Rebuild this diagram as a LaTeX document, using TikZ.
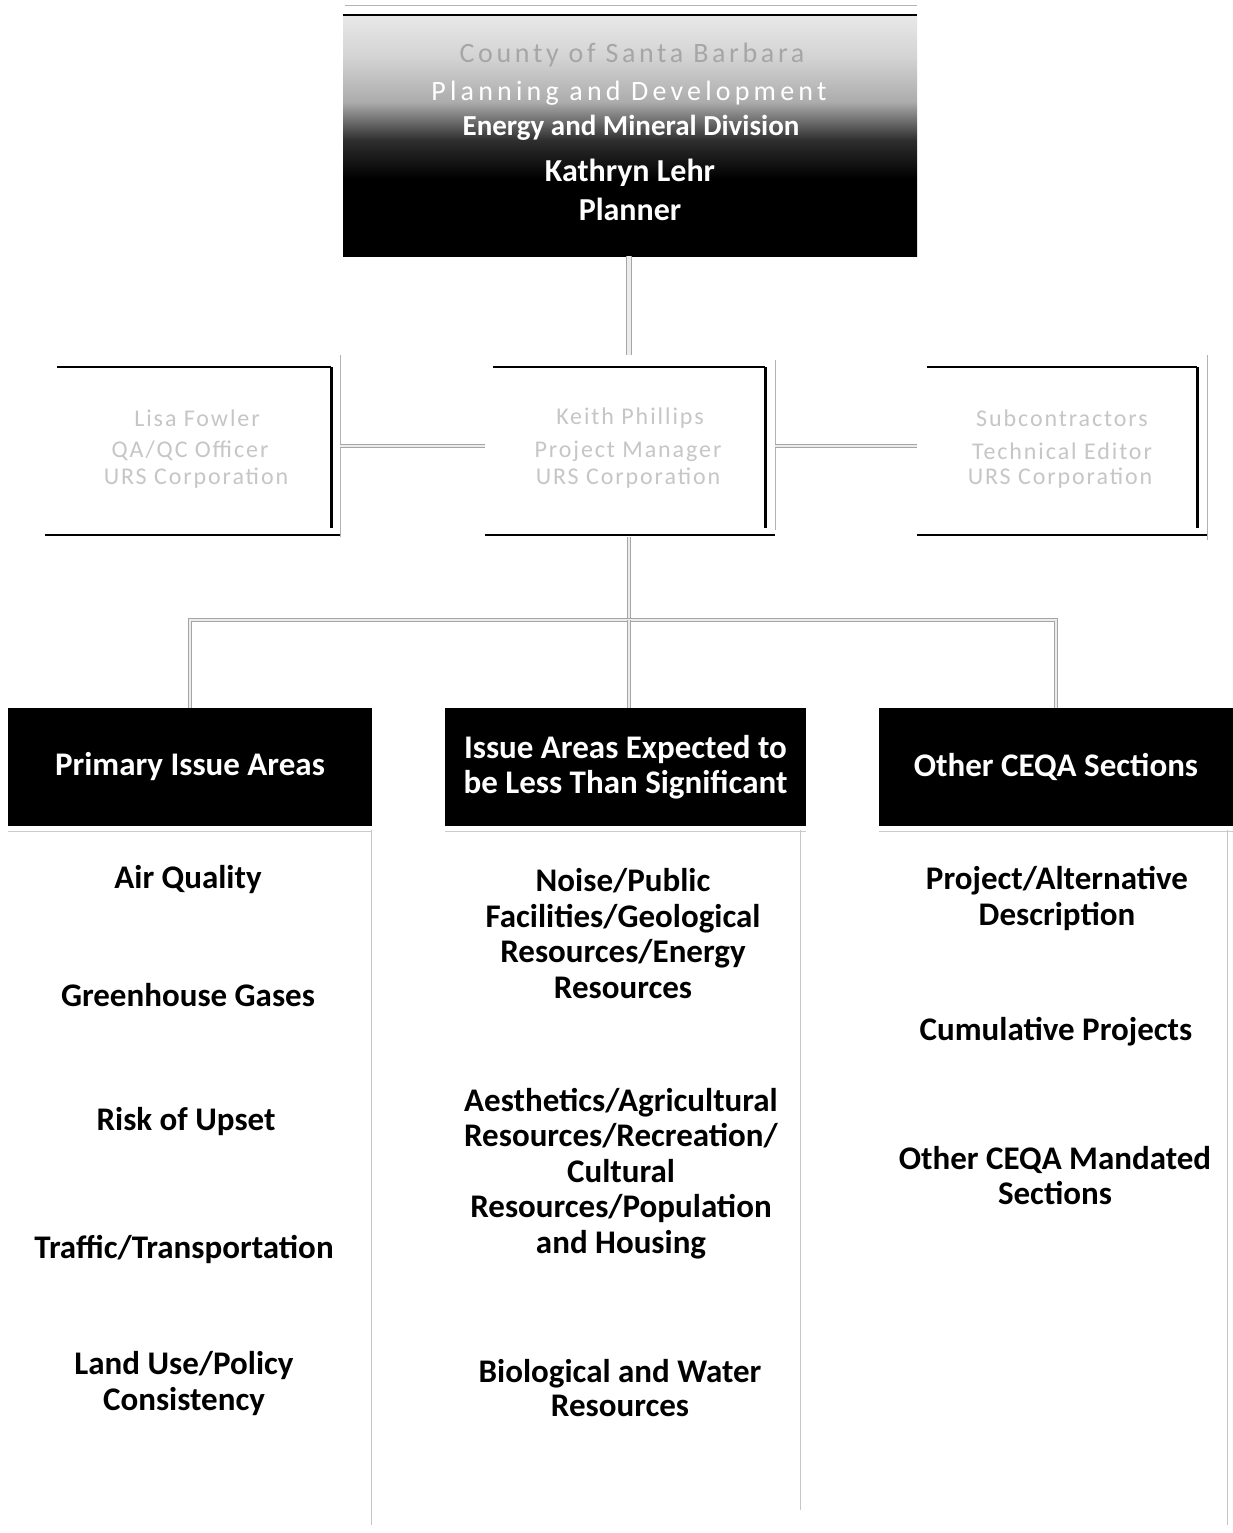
\documentclass[tikz,border=0pt]{standalone}
\usepackage{fontspec}
\setmainfont{Carlito}
\pgfdeclareverticalshading{topshade}{100bp}{color(0bp)=(black); color(25bp)=(black); color(41bp)=(black); color(49bp)=(black!82); color(57bp)=(gray!65); color(66bp)=(gray!35); color(75bp)=(gray!18); color(100bp)=(gray!18)}
\begin{document}
\begin{tikzpicture}[x=1pt,y=-1pt,
  conn/.style={draw=gray!70, double=gray!15, double distance=2.2pt, line width=0.9pt},
  toptext/.style={font=\fontsize{#1}{#1}\selectfont\bfseries, text=white, inner sep=0pt},
  toptext/.default=32,
  faint/.style={font=\fontsize{24}{26}\selectfont\addfontfeatures{LetterSpace=8}, text=gray!45, inner sep=0pt},
  hdr/.style={fill=black, text=white, font=\fontsize{33}{35.5}\selectfont\bfseries, align=center, minimum width=364pt, minimum height=118pt, inner sep=0pt},
  item/.style={font=\fontsize{33}{35.5}\selectfont\bfseries, align=center, text=black, inner sep=0pt},
  midbox/.style={minimum width=295pt, minimum height=182pt, inner sep=0pt},
  edge/.style={draw=black, line width=1.6pt},
  redge/.style={draw=black, line width=3pt},
  shadow/.style={draw=gray!60, line width=1pt},
  colline/.style={draw=gray!45, line width=0.8pt}
]
\useasboundingbox (0,0) rectangle (1233,1533);
\fill[white] (0,0) rectangle (1233,1533);

% top box
\draw[gray!60, line width=0.8pt] (345,5) -- (917,5);
\node[minimum width=574pt, minimum height=241pt, inner sep=0pt, shading=topshade] (top) at (630,135.5) {};
\draw[black, line width=2pt] (top.north west) -- (top.north east);
\node[inner sep=0pt, text=gray!70, font=\fontsize{28}{30}\selectfont\addfontfeatures{LetterSpace=13}] (t1) at (632,55) {County of Santa Barbara};
\node[inner sep=0pt, text=white, font=\fontsize{28}{30}\selectfont\addfontfeatures{LetterSpace=15}] (t2) at (629,93) {Planning and Development};
\node[toptext=29] (t3) at (631,128) {Energy and Mineral Division};
\node[toptext=32] (t4) at (630,173) {Kathryn Lehr};
\node[toptext=32] (t5) at (630,209) {Planner};

% middle row boxes
\node[midbox] (L) at (192.5,446) {};
\node[midbox, minimum width=290pt] (M) at (630,446) {};
\node[midbox, minimum width=290pt] (R) at (1062,446) {};

\draw[edge] (57,367) -- (331,367);
\draw[redge] (331,367) -- (331,528);
\draw[edge] (45,535) -- (340,535);
\draw[shadow] (340,355) -- (340,537);

\draw[edge] (493,367) -- (765,367);
\draw[redge] (765,367) -- (765,528);
\draw[edge] (485,535) -- (775,535);
\draw[shadow] (775,360) -- (775,530);

\draw[edge] (927,367) -- (1197,367);
\draw[redge] (1197,367) -- (1197,528);
\draw[edge] (917,535) -- (1207,535);
\draw[shadow] (1207,355) -- (1207,540);

\node[faint] (l1) at (197,418) {Lisa Fowler};
\node[faint] (l2) at (190,451) {QA/QC Officer};
\node[faint] (l3) at (196,478) {URS Corporation};
\node[faint] (m1) at (630,418) {Keith Phillips};
\node[faint] (m2) at (628,451) {Project Manager};
\node[faint] (m3) at (628,478) {URS Corporation};
\node[faint] (r1) at (1062,418) {Subcontractors};
\node[faint] (r2) at (1062,451) {Technical Editor};
\node[faint] (r3) at (1060,478) {URS Corporation};

% headers
\node[hdr] (h1) at (190,767) {Primary Issue Areas};
\node[hdr, minimum width=361pt] (h2) at (625.5,767) {Issue Areas Expected to\\be Less Than Significant};
\node[hdr, minimum width=354pt] (h3) at (1056,767) {Other CEQA Sections};
\draw[gray!40, line width=0.8pt] (h1.south west) ++(0,5) -- ++(364,0);
\draw[gray!40, line width=0.8pt] (h2.south west) ++(0,5) -- ++(361,0);
\draw[gray!40, line width=0.8pt] (h3.south west) ++(0,5) -- ++(354,0);

% connectors
\coordinate (bus) at (629,620);
\draw[conn, double distance=3.5pt] (top.south -| 629,0) -- (M.north -| 629,0);
\draw[conn] (L.east |- 0,446) -- (M.west |- 0,446);
\draw[conn] (M.east |- 0,446) -- (R.west |- 0,446);
\draw[conn] (M.south -| 629,0) -- (bus);
\draw[conn] (h1.north) -- (h1.north |- bus) -- (h3.north |- bus) -- (h3.north);
\draw[conn] (bus) -- (h2.north -| bus);

% column lines
\draw[colline] (371,830) -- (371,1525);
\draw[colline] (800,830) -- (800,1510);
\draw[colline] (1227,830) -- (1227,1525);

% column items
\node[item] (a1) at (188,880) {Air Quality};
\node[item] (a2) at (188,995) {Greenhouse Gases};
\node[item] (a3) at (186,1122) {Risk of Upset};
\node[item] (a4) at (184,1249) {Traffic/Transportation};
\node[item] (a5) at (184,1383.5) {Land Use/Policy\\Consistency};

\node[item] (b1) at (623,933.5) {Noise/Public\\Facilities/Geological\\Resources/Energy\\Resources};
\node[item] (b2) at (621,1173.5) {Aesthetics/Agricultural\\Resources/Recreation/\\Cultural\\Resources/Population\\and Housing};
\node[item, font=\fontsize{33}{34}\selectfont\bfseries] (b3) at (620,1388) {Biological and Water\\Resources};

\node[item] (c1) at (1057,898.5) {Project/Alternative\\Description};
\node[item] (c2) at (1056,1032) {Cumulative Projects};
\node[item] (c3) at (1055,1175.5) {Other CEQA Mandated\\Sections};
\end{tikzpicture}
\end{document}
